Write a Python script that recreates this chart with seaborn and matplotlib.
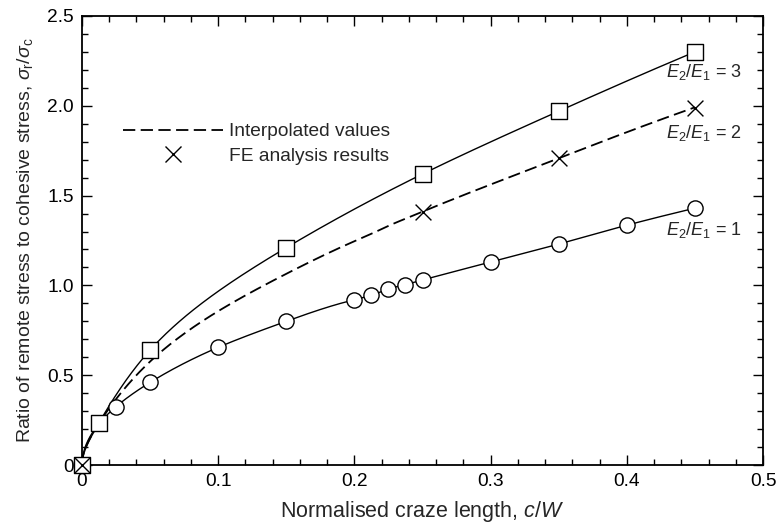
import numpy as np
import pandas as pd
import matplotlib
matplotlib.use("Agg")
import matplotlib.pyplot as plt
from matplotlib.lines import Line2D
from matplotlib.ticker import MultipleLocator, FixedLocator
import seaborn as sns

# FE results, E2/E1 = 1
c1_x = [0, 0.025, 0.05, 0.1, 0.15, 0.2, 0.2125, 0.225, 0.2375, 0.25, 0.3, 0.35, 0.4, 0.45]
c1_y = [0, 0.325, 0.46, 0.655, 0.80, 0.92, 0.945, 0.98, 1.005, 1.03, 1.13, 1.23, 1.335, 1.43]
# FE results, E2/E1 = 3
c3_x = [0, 0.0125, 0.05, 0.15, 0.25, 0.35, 0.45]
c3_y = [0, 0.235, 0.64, 1.21, 1.62, 1.97, 2.30]
# FE results, E2/E1 = 2
c2_x = [0, 0.25, 0.35, 0.45]
c2_y = [0, 1.41, 1.71, 1.99]

x_ticks = [0, 0.1, 0.2, 0.3, 0.4, 0.5]
x_ticklabels = ["0", "0.1", "0.2", "0.3", "0.4", "0.5"]
y_ticks = [0, 0.5, 1.0, 1.5, 2.0, 2.5]
y_ticklabels = ["0", "0.5", "1.0", "1.5", "2.0", "2.5"]


def natural_spline(xk, yk, xq):
    """Natural cubic spline through (xk, yk), evaluated at xq."""
    xk = np.asarray(xk, float)
    yk = np.asarray(yk, float)
    n = len(xk)
    h = np.diff(xk)
    A = np.zeros((n, n))
    b = np.zeros(n)
    A[0, 0] = A[-1, -1] = 1.0
    for i in range(1, n - 1):
        A[i, i - 1] = h[i - 1]
        A[i, i] = 2 * (h[i - 1] + h[i])
        A[i, i + 1] = h[i]
        b[i] = 3 * ((yk[i + 1] - yk[i]) / h[i] - (yk[i] - yk[i - 1]) / h[i - 1])
    c = np.linalg.solve(A, b)
    idx = np.clip(np.searchsorted(xk, xq) - 1, 0, n - 2)
    dx = xq - xk[idx]
    bb = (yk[idx + 1] - yk[idx]) / h[idx] - h[idx] * (2 * c[idx] + c[idx + 1]) / 3
    dd = (c[idx + 1] - c[idx]) / (3 * h[idx])
    return yk[idx] + bb * dx + c[idx] * dx ** 2 + dd * dx ** 3


# common grid, uniform in sqrt(c/W) so the steep start at the origin is resolved
s_grid = np.linspace(0, np.sqrt(0.45), 500)
x_grid = s_grid ** 2
y1_s = natural_spline(np.sqrt(c1_x), c1_y, s_grid)
y3_s = natural_spline(np.sqrt(c3_x), c3_y, s_grid)

# E2/E1 = 2: interpolate between the two bounding curves, weight set by the FE points
p1 = np.interp(c2_x[1:], x_grid, y1_s)
p3 = np.interp(c2_x[1:], x_grid, y3_s)
w = np.sum((np.array(c2_y[1:]) - p1) * (p3 - p1)) / np.sum((p3 - p1) ** 2)
y2_s = y1_s + w * (y3_s - y1_s)

curves = pd.DataFrame({"x": np.tile(x_grid, 3),
                       "y": np.concatenate([y1_s, y2_s, y3_s]),
                       "ratio": np.repeat(["1", "2", "3"], len(x_grid))})

sns.set_style("ticks")
plt.rcParams["font.family"] = ["Liberation Sans", "DejaVu Sans"]
plt.rcParams["mathtext.fontset"] = "custom"
plt.rcParams["mathtext.rm"] = "Liberation Sans"
plt.rcParams["mathtext.it"] = "Liberation Sans:italic"
plt.rcParams["mathtext.bf"] = "Liberation Sans:bold"

fig = plt.figure(figsize=(7.78, 5.28), dpi=100)
ax = fig.add_axes([82 / 778, 63 / 528, 681 / 778, 449 / 528])

dash = (0, (6.8, 3.0))
for name in ["1", "3"]:
    sns.lineplot(data=curves[curves["ratio"] == name], x="x", y="y", ax=ax,
                 color="black", lw=1.0, sort=False, estimator=None, zorder=2)
sns.lineplot(data=curves[curves["ratio"] == "2"], x="x", y="y", ax=ax,
             color="black", lw=1.3, sort=False, estimator=None, zorder=2,
             linestyle=dash)

sns.scatterplot(x=c1_x, y=c1_y, ax=ax, marker="o", s=120, facecolor="white",
                edgecolor="black", linewidth=1.0, zorder=3, clip_on=False)
sns.scatterplot(x=c3_x, y=c3_y, ax=ax, marker="s", s=130, facecolor="white",
                edgecolor="black", linewidth=1.0, zorder=4, clip_on=False)
sns.scatterplot(x=c2_x, y=c2_y, ax=ax, marker="x", s=130, color="black",
                linewidth=1.0, zorder=5, clip_on=False)

ax.set_xlim(0, 0.5)
ax.set_ylim(0, 2.5)
ax.xaxis.set_major_locator(FixedLocator(x_ticks))
ax.set_xticklabels(x_ticklabels)
ax.yaxis.set_major_locator(FixedLocator(y_ticks))
ax.set_yticklabels(y_ticklabels)
ax.xaxis.set_minor_locator(MultipleLocator(0.02))
ax.yaxis.set_minor_locator(MultipleLocator(0.1))
ax.tick_params(which="both", direction="in", top=True, right=True,
               width=1.0, colors="black", labelsize=13.8, pad=6)
ax.tick_params(which="major", length=7)
ax.tick_params(which="minor", length=4)
for sp in ax.spines.values():
    sp.set_visible(True)
    sp.set_linewidth(1.3)
    sp.set_color("black")

ax.set_xlabel(r"Normalised craze length, $\mathit{c/W}$", fontsize=15.5, labelpad=6)
ax.set_ylabel(r"Ratio of remote stress to cohesive stress, "
              r"$\mathit{\sigma}_\mathrm{r}/\mathit{\sigma}_\mathrm{c}$",
              fontsize=14, labelpad=9)

for lab, yy in [("3", 2.188), ("2", 1.849), ("1", 1.308)]:
    ax.text(0.4846, yy, r"$\mathit{E}_2/\mathit{E}_1$ = " + lab, ha="right",
            va="center", fontsize=13)

handles = [
    Line2D([], [], color="black", lw=1.3, linestyle=dash),
    Line2D([], [], color="black", lw=0, marker="x", markersize=11,
           markeredgewidth=1.0),
]
ax.legend(handles, ["Interpolated values", "FE analysis results"],
          loc="upper left", bbox_to_anchor=(0.035, 0.8), frameon=False,
          fontsize=13.8, handlelength=5.2, handletextpad=0.3, labelspacing=0.35)

fig.savefig("out.png", dpi=100)
